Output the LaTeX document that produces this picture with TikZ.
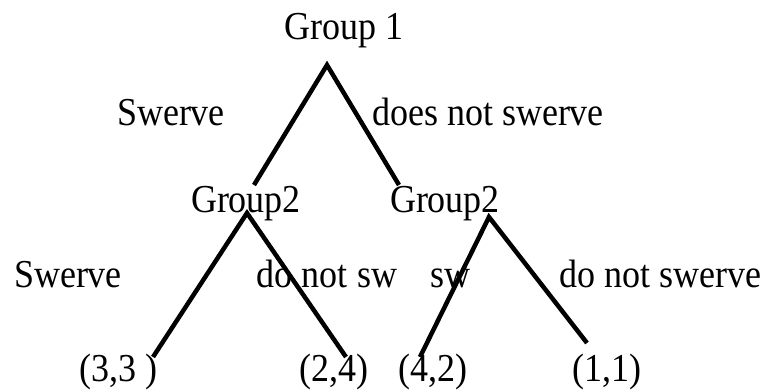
\documentclass[tikz,border=0pt]{standalone}
\usepackage{fontspec}
\setmainfont{Liberation Serif}
\newcommand\tallt[1]{\scalebox{1}[1.1]{#1}}
\begin{document}
\begin{tikzpicture}[x=1pt,y=-1pt,
  lbl/.style={anchor=base,inner sep=0pt,font=\fontsize{36}{40}\selectfont},
  branch/.style={line width=4.5pt,line join=miter}]
\useasboundingbox (0,0) rectangle (765,390);
% texts
\node[lbl] (g1) at (344,40) {\tallt{Group 1}};
\node[lbl] (s1) at (171,126) {\tallt{Swerve}};
\node[lbl] (n1) at (488,126) {\tallt{does not swerve}};
\node[lbl] (g2a) at (246,212) {\tallt{Group2}};
\node[lbl] (g2b) at (445,212) {\tallt{Group2}};
\node[lbl] (s2) at (68,287) {\tallt{Swerve}};
\node[lbl] (n2) at (327,287) {\tallt{do not sw}};
\node[lbl] (s3) at (450,287) {\tallt{sw}};
\node[lbl] (n3) at (660,287) {\tallt{do not swerve}};
\node[lbl] (p1) at (118,381) {\tallt{(3,3 )}};
\node[lbl] (p2) at (334,381) {\tallt{(2,4)}};
\node[lbl] (p3) at (433,381) {\tallt{(4,2)}};
\node[lbl] (p4) at (607,381) {\tallt{(1,1)}};
% branch points
\coordinate (r0) at (327,65);
\coordinate (r0l) at (254,185);
\coordinate (r0r) at (399,185);
\coordinate (a0) at (247,213);
\coordinate (a0l) at (153,357);
\coordinate (a0r) at (346,357);
\coordinate (b0) at (489,217);
\coordinate (b0l) at (420,357);
\coordinate (b0r) at (587,343);
\draw[branch] (r0l) -- (r0) -- (r0r);
\draw[branch] (a0l) -- (a0) -- (a0r);
\draw[branch] (b0l) -- (b0) -- (b0r);
\end{tikzpicture}
\end{document}
